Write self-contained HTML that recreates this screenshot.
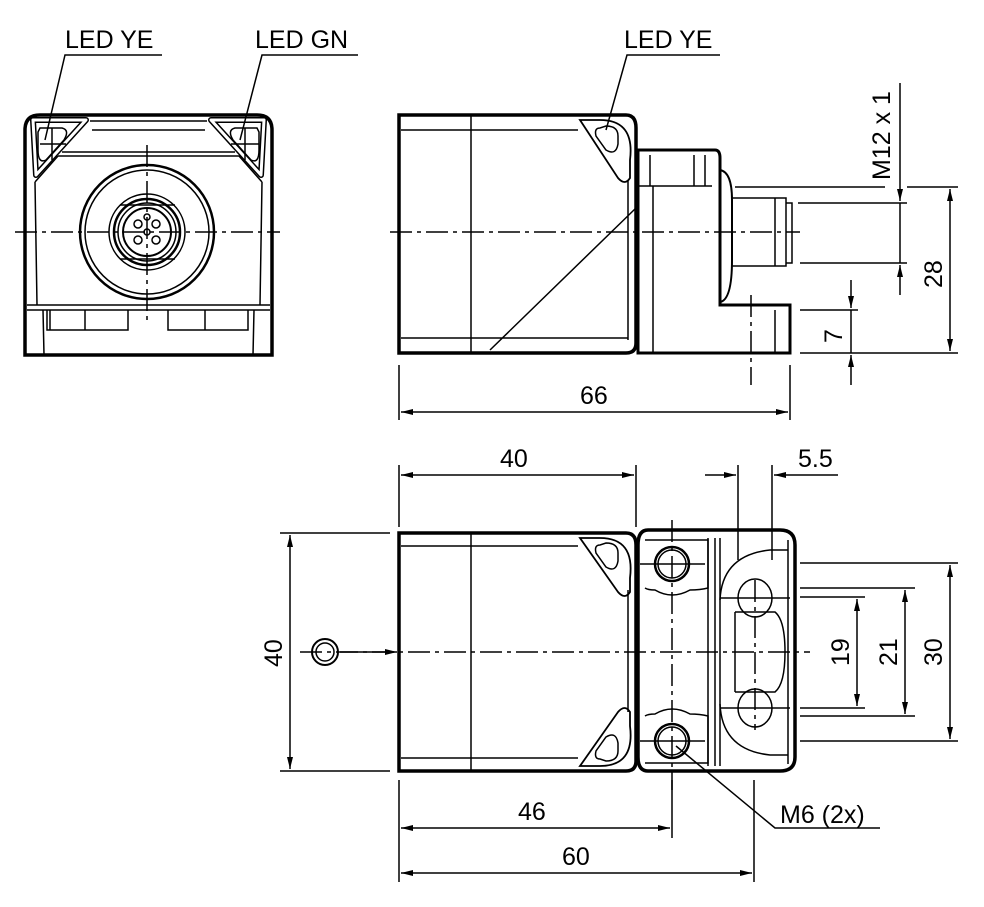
<!DOCTYPE html>
<html><head><meta charset="utf-8"><style>
html,body{margin:0;padding:0;background:#fff;}
svg{display:block;}
text{font-family:"Liberation Sans",Arial,sans-serif;font-size:25px;fill:#000;}
</style></head><body>
<svg width="984" height="907" viewBox="0 0 984 907" xmlns="http://www.w3.org/2000/svg">
<defs>
<marker id="a" viewBox="0 0 12 6" refX="12" refY="3" markerWidth="12" markerHeight="6" orient="auto-start-reverse" markerUnits="userSpaceOnUse"><path d="M0,0 L12,3 L0,6 z" fill="#000"/></marker>
</defs>
<g fill="none" stroke="#000" stroke-width="1.5">
<!-- FRONT VIEW -->
<path d="M25,355 V130 Q25,115 40,115 H257 Q272,115 272,130 V355 Z" stroke-width="3.5"/>
<path d="M33,120 H86 L36,175 Z M264,120 H211 L261,175 Z" stroke-width="6" stroke-linejoin="round"/>
<path d="M33,120 H86 L36,175 Z M264,120 H211 L261,175 Z" stroke-width="3" stroke="#fff" stroke-linejoin="round"/>
<path d="M40,128 H62 Q70,130 64,140 L46,160 Q38,164 38,150 V132 Z M257,128 H235 Q227,130 233,140 L251,160 Q259,164 259,150 V132 Z"/>
<path d="M52,128 V160 M40,144 H66 M245,128 V160 M231,144 H259"/>
<path d="M90,121 H207 M92,130 H205 M62,152 H235 M58,156 H239 L262,182 M58,156 L35,182 M35,182 L37,305 M262,182 L260,305"/>
<circle cx="147" cy="232" r="67" stroke-width="2.5"/><circle cx="147" cy="232" r="62"/>
<circle cx="147" cy="232" r="38"/><circle cx="147" cy="232" r="33" stroke-width="2.5"/><circle cx="147" cy="232" r="29"/><circle cx="147" cy="232" r="24" stroke-width="2"/>
<circle cx="138" cy="224" r="4"/><circle cx="156" cy="224" r="4"/><circle cx="138" cy="240" r="4"/><circle cx="156" cy="240" r="4"/><circle cx="147" cy="217" r="3"/><circle cx="147" cy="232" r="3"/>
<path d="M120,205 H175 M120,259 H175"/>
<path d="M27,305 H270 M27,310 H270"/>
<path d="M47,310 V330 H128 V310 M50,330 V310 M85,310 V330 M168,310 V330 H248 V310 M205,310 V330 M43,310 L44,355 M254,310 L253,355"/>
<path d="M15,232 H280 M147,145 V320" stroke-dasharray="22,5,4,5"/>
<!-- LED leaders -->
<path d="M45,140 L65,55 H162 M240,140 L262,55 H358 M606,130 L627,55 H720"/>
<!-- SIDE VIEW -->
<path d="M399,115 H626 Q636,115 636,128 V343 Q636,353 626,353 H399 Z" stroke-width="3.5"/>
<path d="M471,115 V353 M401,130 H578 M401,338 H628 M628,180 V340 M636,208 L490,350"/>
<path d="M580,120 l20,0 q35,0 30,40 v18 q-5,8 -12,0 z" stroke-width="1.8"/>
<path d="M600,128 q-6,0 -4,8 l10,14 q10,6 12,-6 v-8 q0,-10 -12,-10 z"/>
<path d="M638,150 H715 Q720,150 720,158 V305 H790 V353 H638 Z" stroke-width="3"/>
<path d="M638,186 H712 M650,155 V186 M694,155 V186 M705,155 V186 M653,186 V353"/>
<path d="M720,170 Q732,172 732,200 V260 Q732,300 720,302 V170" stroke-width="2"/>
<path d="M732,198 H786 V266 H732 M775,198 V266 M786,203 H792 V263 H786"/>
<path d="M775,310 V353" />
<path d="M390,232 H800" stroke-dasharray="22,5,4,5"/>
<path d="M751,295 V385" stroke-dasharray="22,5,4,5"/>
<!-- dims top -->
<path d="M399,365 V420 M790,365 V420"/>
<line x1="401" y1="412" x2="788" y2="412" marker-start="url(#a)" marker-end="url(#a)"/>
<path d="M735,187 H885 M907,187 H958 M798,203 H907 M800,263 H907 M800,310 H858 M800,353 H958"/>
<line x1="900" y1="83" x2="900" y2="201" marker-end="url(#a)"/>
<line x1="900" y1="295" x2="900" y2="265" marker-end="url(#a)"/>
<line x1="900" y1="203" x2="900" y2="263"/>
<line x1="950" y1="189" x2="950" y2="351" marker-start="url(#a)" marker-end="url(#a)"/>
<line x1="851" y1="280" x2="851" y2="308" marker-end="url(#a)"/>
<line x1="851" y1="385" x2="851" y2="355" marker-end="url(#a)"/>
<line x1="851" y1="310" x2="851" y2="353"/>
<!-- BOTTOM VIEW -->
<path d="M399,533 H626 Q636,533 636,545 V761 Q636,771 626,771 H399 Z" stroke-width="3.5"/>
<path d="M471,533 V771 M401,546 H578 M401,758 H578 M628,590 V712"/>
<path d="M580,538 l20,0 q35,0 30,40 v14 q-5,8 -12,0 z" stroke-width="1.8"/>
<path d="M580,766 l20,0 q35,0 30,-40 v-14 q-5,-8 -12,0 z" stroke-width="1.8"/>
<path d="M600,545 q-6,0 -4,8 l10,14 q10,6 12,-6 v-8 q0,-10 -12,-10 z M600,759 q-6,0 -4,-8 l10,-14 q10,-6 12,6 v8 q0,10 -12,10 z"/>
<path d="M648,530 H780 Q795,530 795,545 V757 Q795,771 780,771 H648 Q638,771 638,757 V545 Q638,530 648,530 Z" stroke-width="3.5"/>
<path d="M645,540 H708 V588 Q700,590 690,590 Q672,600 655,590 Q648,590 645,588 M645,763 H708 V716 Q700,714 690,714 Q672,704 655,714 Q648,714 645,716"/>
<path d="M708,538 V766 M715,538 V766 M720,538 V766 M788,540 V764"/>
<path d="M720,600 Q722,555 770,550 H788 M720,704 Q722,750 770,755 H788"/>
<path d="M735,612 H775 Q785,620 785,652 Q785,684 775,692 H735 M735,612 V692"/>
<circle cx="672" cy="564" r="17" stroke-width="2.5"/><circle cx="672" cy="564" r="14"/>
<circle cx="672" cy="741" r="17" stroke-width="2.5"/><circle cx="672" cy="741" r="14"/>
<ellipse cx="755" cy="598" rx="17" ry="19"/><ellipse cx="755" cy="708" rx="17" ry="19"/>
<circle cx="325" cy="652" r="13" stroke-width="2"/><circle cx="325" cy="652" r="9"/>
<path d="M300,652 H810 M672,520 V790 M755,580 V730" stroke-dasharray="22,5,4,5"/>
<line x1="340" y1="652" x2="397" y2="652" marker-end="url(#a)"/>
<path d="M640,564 H705 M640,741 H705 M720,598 H790 M720,708 H790"/>
<!-- dims bottom -->
<path d="M399,465 V527 M636,465 V527 M738,465 V560 M772,465 V560"/>
<line x1="401" y1="475" x2="634" y2="475" marker-start="url(#a)" marker-end="url(#a)"/>
<line x1="705" y1="475" x2="736" y2="475" marker-end="url(#a)"/>
<line x1="838" y1="475" x2="774" y2="475" marker-end="url(#a)"/>
<path d="M280,533 H390 M280,771 H390"/>
<line x1="290" y1="535" x2="290" y2="769" marker-start="url(#a)" marker-end="url(#a)"/>
<path d="M800,563 H958 M800,588 H915 M800,597 H865 M800,708 H865 M800,716 H915 M800,741 H958"/>
<line x1="857" y1="599" x2="857" y2="706" marker-start="url(#a)" marker-end="url(#a)"/>
<line x1="905" y1="590" x2="905" y2="714" marker-start="url(#a)" marker-end="url(#a)"/>
<line x1="950" y1="565" x2="950" y2="739" marker-start="url(#a)" marker-end="url(#a)"/>
<path d="M399,780 V882 M672,780 V838 M754,780 V882"/>
<line x1="401" y1="828" x2="670" y2="828" marker-start="url(#a)" marker-end="url(#a)"/>
<line x1="401" y1="873" x2="752" y2="873" marker-start="url(#a)" marker-end="url(#a)"/>
<path d="M676,746 L775,828 H880"/>
</g>
<g>
<text x="65" y="48">LED YE</text>
<text x="255" y="48">LED GN</text>
<text x="624" y="48">LED YE</text>
<text x="580" y="404">66</text>
<text x="500" y="467">40</text>
<text x="798" y="467">5.5</text>
<text x="518" y="820">46</text>
<text x="562" y="865">60</text>
<text x="780" y="823">M6 (2x)</text>
<text transform="translate(890,180) rotate(-90)">M12 x 1</text>
<text transform="translate(942,288) rotate(-90)">28</text>
<text transform="translate(842,343) rotate(-90)">7</text>
<text transform="translate(282,667) rotate(-90)">40</text>
<text transform="translate(849,666) rotate(-90)">19</text>
<text transform="translate(897,666) rotate(-90)">21</text>
<text transform="translate(942,666) rotate(-90)">30</text>
</g>
</svg>
</body></html>
